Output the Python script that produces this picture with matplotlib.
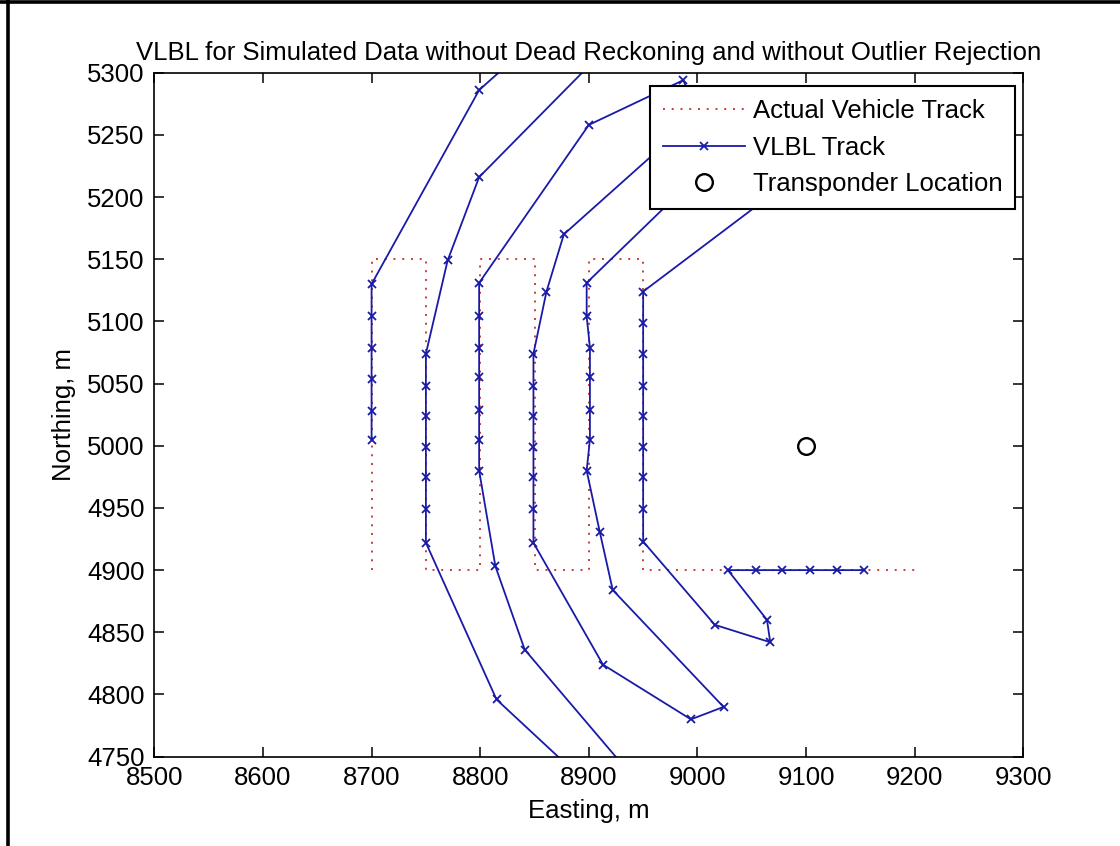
import matplotlib
matplotlib.use("Agg")
import matplotlib.pyplot as plt
from matplotlib.lines import Line2D

plt.rcParams["font.family"] = ["Liberation Sans", "DejaVu Sans"]

# actual (lawnmower) vehicle track
track_east = [8700, 8700, 8750, 8750, 8800, 8800, 8850, 8850, 8900, 8900, 8950, 8950, 9200]
track_north = [4900, 5150, 5150, 4900, 4900, 5150, 5150, 4900, 4900, 5150, 5150, 4900, 4900]

# VLBL position fixes (some fall outside the plotted window / under the legend)
vlbl_east = [
    8700, 8700, 8700, 8700, 8700, 8700,
    8799, 8840, 8930, 8799, 8770,
    8750, 8750, 8750, 8750, 8750, 8750, 8750,
    8815, 8900, 8950, 8841, 8814,
    8799, 8799, 8799, 8799, 8799, 8799, 8799,
    8900, 8987, 9000, 8877, 8861,
    8849, 8849, 8849, 8849, 8849, 8849, 8849,
    8913, 8994, 9024, 8922, 8910,
    8898, 8901, 8901, 8901, 8901, 8898, 8898,
    9060, 9120,
    8950, 8950, 8950, 8950, 8950, 8950, 8950, 8950, 8950,
    9016, 9067, 9064,
    9028, 9054, 9078, 9104, 9128, 9153,
]
vlbl_north = [
    5005, 5028, 5054, 5079, 5104, 5130,
    5286, 5318, 5332, 5216, 5149,
    5074, 5048, 5024, 4999, 4975, 4949, 4922,
    4796, 4727, 4724, 4836, 4903,
    4980, 5005, 5029, 5055, 5079, 5104, 5131,
    5258, 5294, 5266, 5170, 5124,
    5074, 5048, 5024, 4999, 4975, 4949, 4922,
    4824, 4780, 4790, 4884, 4931,
    4980, 5005, 5029, 5055, 5079, 5104, 5131,
    5268, 5236,
    5124, 5099, 5074, 5048, 5024, 4999, 4975, 4949, 4923,
    4856, 4842, 4860,
    4900, 4900, 4900, 4900, 4900, 4900,
]

transponder_east = [9100]
transponder_north = [5000]

fs = 18.5
fig = plt.figure(figsize=(11.2, 8.46), dpi=100)
ax = fig.add_axes([0.1378, 0.1056, 0.7759, 0.8085])

ax.plot(track_east, track_north, color="#c83c3c", linestyle=(0, (1, 3.5)), linewidth=1.4,
        label="Actual Vehicle Track")
ax.plot(vlbl_east, vlbl_north, color="#1a1aa8", linewidth=1.3, marker="x", markersize=6,
        markeredgewidth=1.3, label="VLBL Track")
ax.plot(transponder_east, transponder_north, linestyle="none", marker="o", markersize=12,
        markerfacecolor="none", markeredgecolor="black", markeredgewidth=1.7,
        label="Transponder Location")

ax.set_xlim(8500, 9300)
ax.set_ylim(4750, 5300)
ax.set_xticks(range(8500, 9301, 100))
ax.set_yticks(range(4750, 5301, 50))
ax.tick_params(direction="in", top=True, right=True, length=7, width=1.1, pad=7, labelsize=fs)
for s in ax.spines.values():
    s.set_linewidth(1.2)

ax.set_title("VLBL for Simulated Data without Dead Reckoning and without Outlier Rejection",
             fontsize=fs, pad=9)
ax.set_xlabel("Easting, m", fontsize=fs, labelpad=6)
ax.set_ylabel("Northing, m", fontsize=fs, labelpad=8)

leg = ax.legend(loc="upper right", bbox_to_anchor=(0.9905, 0.9806), borderaxespad=0,
                fontsize=fs, fancybox=False, framealpha=1, edgecolor="black",
                handlelength=3.2, handletextpad=0.3, labelspacing=0.5, borderpad=0.5)
leg.get_frame().set_linewidth(1.5)

# figure border (left and top)
fig.add_artist(Line2D([7.5 / 1120, 7.5 / 1120], [0, 1], color="black", linewidth=2.6,
                      transform=fig.transFigure))
fig.add_artist(Line2D([0, 1], [1 - 2.5 / 846, 1 - 2.5 / 846], color="black", linewidth=2.6,
                      transform=fig.transFigure))

fig.savefig("out.png", dpi=100)
